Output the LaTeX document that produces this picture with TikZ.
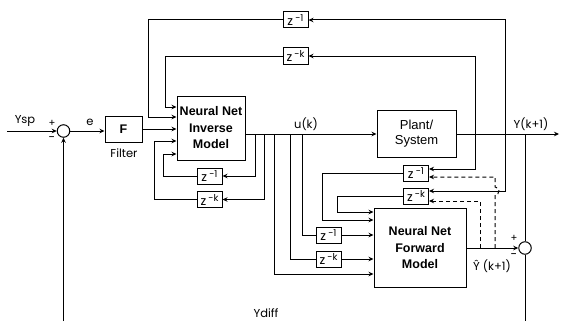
\documentclass[tikz,border=0pt]{standalone}
\usepackage{fontspec}
\setmainfont{Liberation Sans}
\newfontfamily\lab{Poppins}
\usetikzlibrary{arrows.meta}
\tikzset{
  blk/.style={draw,line width=1pt,inner sep=0pt,align=center,font=\fontsize{12.5}{16.5}\selectfont\bfseries},
  zbox/.style={draw,line width=1pt,inner sep=0pt,minimum width=25pt,minimum height=16pt},
  sumc/.style={draw,circle,line width=1pt,minimum size=12.5pt,inner sep=0pt},
  wire/.style={line width=1pt},
  arr/.style={wire,-{Stealth[length=5pt,width=4.5pt]}},
  dsh/.style={arr,dash pattern=on 4pt off 3pt},
  lbl/.style={font=\lab\fontsize{11.5}{12}\selectfont,inner sep=0pt},
}
\newcommand{\zd}[1]{{\lab\fontsize{12.5}{12}\selectfont z\,\raisebox{4pt}{\fontsize{9.5}{9}\selectfont #1}}}
\begin{document}
\begin{tikzpicture}[x=1pt,y=-1pt]
\useasboundingbox (0,0) rectangle (561,321);
% blocks
\node[sumc] (s1) at (63.5,131) {};
\node[blk,minimum width=37pt,minimum height=26pt] (F) at (123.5,129) {F};
\node[blk,minimum width=68pt,minimum height=64pt] (inv) at (211,128) {Neural Net\\Inverse\\Model};
\node[blk,minimum width=79pt,minimum height=47pt,font=\fontsize{13}{15}\selectfont] (plant) at (416.5,134) {Plant/\\System};
\node[blk,minimum width=92pt,minimum height=79pt] (fwd) at (420,248) {Neural Net\\Forward\\Model};
\node[sumc] (s2) at (525,248) {};
\node[zbox] (zt1) at (295.5,20) {\zd{-1}};
\node[zbox] (ztk) at (295.5,56) {\zd{-k}};
\node[zbox] (zi1) at (209.5,176) {\zd{-1}};
\node[zbox] (zik) at (209.5,199.5) {\zd{-k}};
\node[zbox] (zf1) at (328.5,235) {\zd{-1}};
\node[zbox] (zfk) at (328.5,259) {\zd{-k}};
\node[zbox] (zb1) at (416,173) {\zd{-1}};
\node[zbox] (zbk) at (416,196) {\zd{-k}};
% free-end coordinates
\coordinate (ysp) at (7,131);
\coordinate (yout) at (559,134);
\coordinate (bl) at (63.5,321);
\coordinate (br) at (525,321);
\coordinate (ya) at (475,134);
\coordinate (yb) at (505,134);
\coordinate (yc) at (525,134);
% input side
\draw[arr] (ysp) -- (s1.west);
\draw[arr] (s1.east) -- (F.west |- s1.east);
\draw[arr] (bl) -- (s1.south);
\draw[arr] (F.east) -- (inv.west |- F.east);
\draw[arr] (ztk.west) -| (165,107) -- (inv.west |- 0,107);
\draw[arr] (zt1.west) -| (148,117) -- (inv.west |- 0,117);
\draw[arr] (zik.west) -| (154,141) -- (inv.west |- 0,141);
\draw[arr] (zi1.west) -| (163,154) -- (inv.west |- 0,154);
% u(k) bus
\draw[arr] (inv.east |- 0,134) -- (plant.west);
\draw[arr] (255,134) |- (zi1.east);
\draw[arr] (264,134) |- (zik.east);
\draw[arr] (274,134) |- (fwd.west |- 0,274);
\draw[wire] (290,134) |- (zfk.west);
\draw[wire] (302,134) |- (zf1.west);
\draw[arr] (zf1.east) -- (fwd.west |- zf1.east);
\draw[arr] (zfk.east) -- (fwd.west |- zfk.east);
\draw[arr] (zb1.west) -| (322,220) -- (fwd.west |- 0,220);
\draw[arr] (zbk.west) -| (337,212) -- (fwd.west |- 0,212);
% output side
\draw[arr] (plant.east) -- (yout);
\draw[arr] (yb) |- (zt1.east);
\draw[arr] (ya) |- (ztk.east);
\draw[arr] (ya) |- (zb1.east |- 0,169);
\draw[arr] (yb) |- (zbk.east |- 0,191);
\draw[wire] (yc) -- (s2.north);
\draw[wire] (s2.south) -- (br);
\draw[arr] (fwd.east) -- (s2.west);
\draw[dsh] (480,248) |- (zbk.east |- 0,201);
\draw[dsh] (495,248) -- (495,195) arc[start angle=-90,end angle=90,radius=4pt] -- (495,177) -- (zb1.east |- 0,177);
% labels
\node[lbl] (lysp) at (25,121) {Ysp};
\node[lbl,font=\lab\fontsize{10}{10}\selectfont] (lp1) at (52,123) {+};
\node[lbl,font=\lab\fontsize{12}{10}\selectfont] (lm1) at (52,139) {-};
\node[lbl] (le) at (90,122) {e};
\node[lbl] (lfil) at (124,153) {Filter};
\node[lbl] (luk) at (306,124) {u(k)};
\node[lbl] (lyk) at (531,124) {Y(k+1)};
\node[lbl] (lyh) at (492,266) {Ŷ (k+1)};
\node[lbl,font=\lab\fontsize{10}{10}\selectfont] (lp2) at (514,238) {+};
\node[lbl,font=\lab\fontsize{12}{10}\selectfont] (lm2) at (514,256) {-};
\node[lbl] (ldiff) at (266,313) {Ydiff};
\end{tikzpicture}
\end{document}
